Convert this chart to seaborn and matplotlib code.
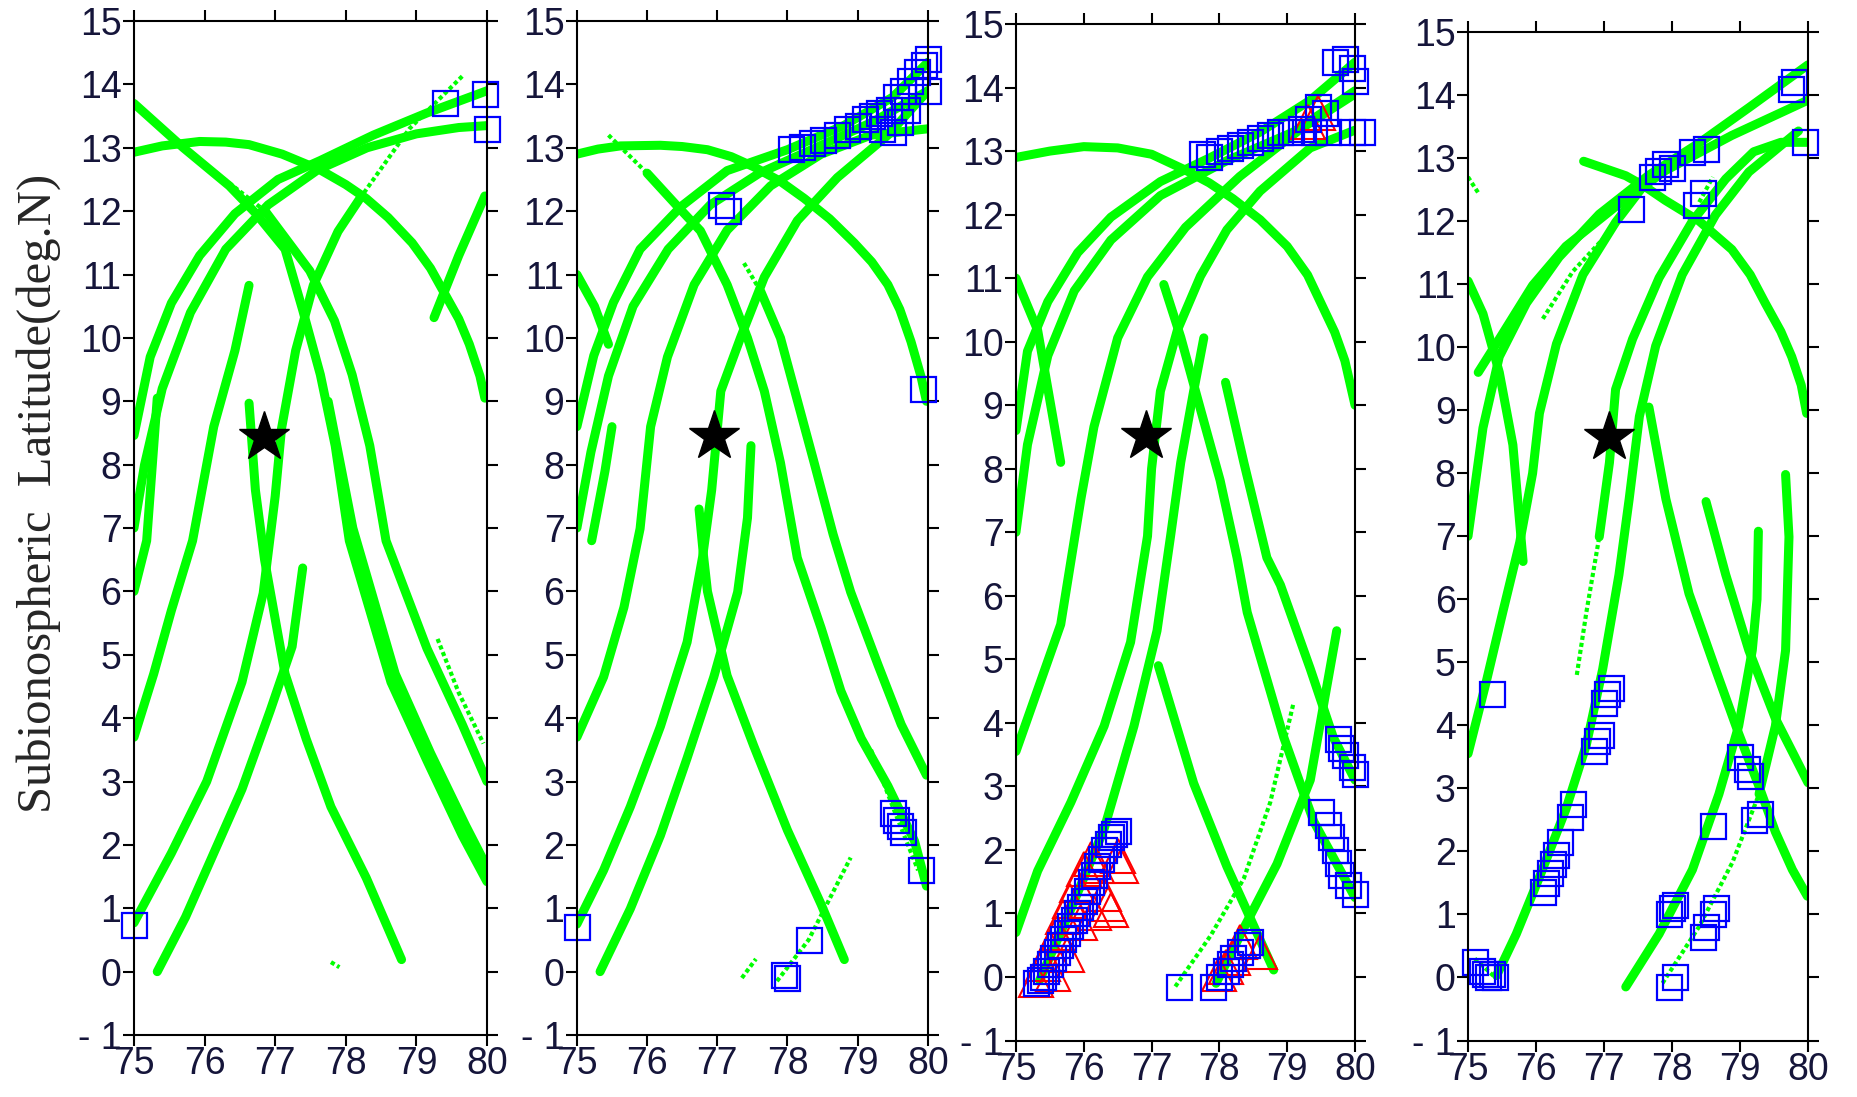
import numpy as np
import pandas as pd
import seaborn as sns
import matplotlib.pyplot as plt

# ---- data (lon deg E, lat deg N) ----
# each track is (lon list, lat list)

# panel 1
p1_thick = [
    ([75, 75.4, 75.93, 76.3, 76.63, 77.1, 77.64, 78.0, 78.29, 78.6, 78.94, 79.2, 79.4, 79.6, 79.75, 79.9, 79.97],
     [12.93, 13.03, 13.1, 13.09, 13.05, 12.9, 12.65, 12.42, 12.2, 11.9, 11.5, 11.1, 10.7, 10.3, 9.9, 9.4, 9.05]),
    ([75, 75.7, 76.35, 76.73, 77.14, 77.39, 77.64, 77.85, 78.05, 78.64, 79.15, 79.65, 80.0],
     [13.7, 13.0, 12.4, 11.96, 11.4, 10.44, 9.42, 8.3, 6.8, 4.57, 3.33, 2.15, 1.42]),
    ([77.75, 78.1, 78.7, 79.2, 79.7, 80.0], [9.0, 7.0, 4.7, 3.45, 2.3, 1.65]),
    ([76.86, 77.49, 77.84, 78.09, 78.34, 78.57, 79.15, 79.65, 80.0], [12.0, 11.06, 10.27, 9.42, 8.3, 6.8, 5.1, 3.9, 3.0]),
    ([75, 75.23, 75.53, 75.93, 76.43, 77.04, 77.64, 78.39, 79.15, 80], [8.46, 9.7, 10.55, 11.3, 11.96, 12.5, 12.8, 13.2, 13.55, 13.9]),
    ([75, 75.15, 75.4, 75.8, 76.3, 76.9, 77.6, 78.3, 79.0, 79.6, 80], [7.0, 8.0, 9.2, 10.4, 11.4, 12.1, 12.65, 13.0, 13.22, 13.32, 13.35]),
    ([75, 75.18, 75.33], [6.0, 6.8, 9.05]),
    ([75, 75.28, 75.53, 75.83, 76.13, 76.43, 76.63], [3.7, 4.7, 5.7, 6.8, 8.6, 9.8, 10.83]),
    ([75, 75.53, 76.03, 76.53, 76.83, 77.0, 77.09, 77.29, 77.54, 77.89, 78.2],
     [0.77, 1.87, 3.0, 4.57, 5.97, 7.5, 8.57, 9.8, 10.83, 11.68, 12.2]),
    ([75.33, 75.73, 76.13, 76.53, 76.93, 77.24, 77.39], [0.0, 0.86, 1.87, 2.88, 4.12, 5.13, 6.37]),
    ([76.63, 76.72, 76.85, 76.93, 77.14, 77.44, 77.79, 78.29, 78.79], [8.97, 7.6, 6.5, 6.0, 4.7, 3.67, 2.6, 1.48, 0.19]),
    ([79.25, 79.6, 79.97], [10.32, 11.3, 12.24]),
]
p1_thin = [
    ([75.87, 76.86], [12.86, 12.0]),
    ([78.2, 78.9, 79.65], [12.2, 13.3, 14.13]),
    ([79.3, 79.6, 79.95], [5.25, 4.4, 3.6]),
    ([77.79, 77.91], [0.15, 0.07]),
]
p1_sq_lon = [75.0, 79.4, 79.97, 80.0]
p1_sq_lat = [0.74, 13.7, 13.85, 13.3]
p1_tri_lon = []
p1_tri_lat = []
p1_star = (76.84, 8.44)

# panel 2
p2_thick = [
    ([75, 75.3, 75.62, 76.19, 76.5, 76.86, 77.2, 77.52, 77.9, 78.24, 78.6, 78.95, 79.2, 79.43, 79.6, 79.76, 79.9, 79.98],
     [12.9, 12.98, 13.03, 13.04, 13.02, 12.97, 12.86, 12.7, 12.47, 12.2, 11.88, 11.5, 11.2, 10.84, 10.45, 9.94, 9.4, 9.0]),
    ([76.0, 76.43, 76.76, 77.14, 77.43, 77.67, 77.9, 78.14, 78.48, 78.76, 79.05, 79.43, 79.81, 79.98],
     [12.6, 12.08, 11.69, 10.84, 10.0, 9.16, 8.03, 6.53, 5.42, 4.43, 3.68, 2.93, 2.06, 1.35]),
    ([77.62, 77.9, 78.38, 78.65, 78.9, 79.29, 79.62, 79.98], [10.73, 10.0, 8.03, 6.9, 5.99, 4.84, 3.9, 3.1]),
    ([75, 75.24, 75.52, 75.9, 76.48, 77.14, 78.0, 78.8, 79.5, 80], [8.6, 9.72, 10.56, 11.4, 12.07, 12.64, 12.97, 13.35, 13.8, 14.35]),
    ([75, 75.2, 75.45, 75.8, 76.3, 76.9, 77.6, 78.4, 79.2, 80], [7.0, 8.2, 9.4, 10.5, 11.4, 12.1, 12.6, 13.0, 13.4, 13.9]),
    ([75.21, 75.4, 75.5], [6.8, 7.9, 8.6]),
    ([75, 75.38, 75.67, 75.9, 76.05, 76.29, 76.67, 77.14, 77.76, 78.48, 79.19, 80],
     [3.7, 4.65, 5.75, 6.99, 8.6, 9.7, 10.84, 11.7, 12.4, 12.9, 13.2, 13.3]),
    ([75, 75.38, 75.76, 76.19, 76.57, 76.79, 76.92, 77.05, 77.33, 77.67, 78.14, 78.71, 79.43, 80],
     [0.75, 1.6, 2.6, 3.87, 5.2, 6.54, 7.6, 9.16, 10.0, 10.96, 11.85, 12.53, 13.2, 13.9]),
    ([75.33, 75.76, 76.19, 76.57, 76.95, 77.29, 77.43, 77.48], [0.0, 0.99, 2.15, 3.37, 4.65, 5.99, 7.16, 8.3]),
    ([76.74, 76.8, 76.86, 77.14, 77.52, 78.0, 78.48, 78.81], [7.3, 6.6, 6.0, 4.67, 3.56, 2.23, 1.06, 0.19]),
    ([75, 75.25, 75.45], [11.0, 10.5, 9.9]),
]
p2_thin = [
    ([75.45, 76.0], [13.2, 12.6]),
    ([77.38, 77.62], [11.18, 10.73]),
    ([79.19, 79.5, 79.86], [3.5, 2.6, 1.6]),
    ([77.35, 77.55], [-0.1, 0.2]),
    ([77.85, 78.3, 78.9], [-0.15, 0.5, 1.8]),
]
p2_sq_lon = [78.05, 78.2, 78.35, 78.5, 78.7, 78.85, 79.0, 79.1, 79.2, 79.3, 79.35, 79.45, 79.5, 79.6, 79.55, 79.65,
             79.7, 79.75, 79.85, 79.95, 80.0, 80.0, 77.05, 77.15, 79.93, 79.5, 79.55, 79.6, 79.65, 79.9,
             77.95, 78.0, 78.3, 75.0]
p2_sq_lat = [12.98, 13.02, 13.08, 13.12, 13.2, 13.3, 13.35, 13.45, 13.5, 13.55, 13.3, 13.6, 13.25, 13.4, 13.8, 13.9,
             13.6, 14.05, 14.2, 14.3, 14.4, 13.9, 12.1, 12.0, 9.2, 2.5, 2.4, 2.3, 2.2, 1.6,
             -0.05, -0.1, 0.5, 0.7]
p2_tri_lon = []
p2_tri_lat = []
p2_star = (76.95, 8.45)

# panel 3
p3_thick = [
    ([75, 75.5, 76, 76.5, 77, 77.5, 77.85, 78.2, 78.6, 79, 79.3, 79.5, 79.7, 79.85, 80],
     [12.9, 13.0, 13.07, 13.05, 12.95, 12.7, 12.5, 12.25, 11.92, 11.5, 11.05, 10.6, 10.15, 9.7, 9.0]),
    ([75, 75.17, 75.47, 75.91, 76.4, 77.13, 77.87, 78.6, 79.34, 80], [8.6, 9.85, 10.63, 11.4, 11.96, 12.52, 12.9, 13.3, 13.8, 14.4]),
    ([75, 75.17, 75.47, 75.86, 76.4, 77.13, 78.11, 79.09, 80], [7.0, 8.38, 9.78, 10.8, 11.6, 12.3, 12.85, 13.3, 13.95]),
    ([75, 75.32, 75.66], [11.0, 10.18, 8.1]),
    ([75, 75.32, 75.66, 75.96, 76.15, 76.5, 76.94, 77.5, 78.3, 79.2, 80], [3.55, 4.52, 5.55, 7.54, 8.66, 10.06, 11.02, 11.8, 12.6, 13.35, 13.9]),
    ([75, 75.32, 75.81, 76.3, 76.69, 76.94, 77.0, 77.13, 77.38, 77.72, 78.11, 78.6, 79.34, 80],
     [0.7, 1.67, 2.75, 3.95, 5.27, 6.94, 8.0, 9.22, 10.18, 11.03, 11.76, 12.37, 13.05, 13.33]),
    ([75.35, 75.81, 76.3, 76.74, 77.08, 77.28, 77.43, 77.62, 77.77], [-0.05, 1.07, 2.33, 3.95, 5.45, 6.94, 8.1, 9.22, 10.06]),
    ([77.18, 77.43, 77.72, 78.01, 78.26, 78.41, 78.95, 79.39, 80.0], [10.9, 10.07, 8.94, 7.82, 6.6, 5.74, 3.77, 2.45, 1.25]),
    ([78.09, 78.36, 78.7, 78.9, 79.34, 79.68, 80], [9.36, 8.1, 6.6, 6.17, 4.85, 3.77, 3.1]),
    ([77.1, 77.62, 78.11, 78.8], [4.9, 3.05, 1.74, 0.11]),
    ([77.95, 78.36, 78.85, 79.34, 79.58, 79.73], [-0.1, 0.77, 1.78, 3.1, 4.55, 5.45]),
]
p3_thin = [
    ([77.35, 77.87, 78.36, 78.75, 79.09], [-0.15, 0.65, 1.55, 2.75, 4.3]),
]
p3_sq_lon = [77.75, 77.85, 78.0, 78.15, 78.3, 78.45, 78.6, 78.75, 78.9, 79.05, 79.2, 79.3, 79.4, 79.45, 79.55, 79.6,
             79.7, 79.85, 79.95, 80.0, 79.95, 80.1,
             75.3, 75.35, 75.4, 75.45, 75.5, 75.55, 75.6, 75.65, 75.7, 75.75, 75.8, 75.85, 75.9, 75.95, 76.0, 76.05,
             76.1, 76.15, 76.2, 76.25, 76.3, 76.35, 76.4, 76.45, 76.5,
             77.4, 77.9, 78.0, 78.1, 78.15, 78.2, 78.3, 78.4, 78.45,
             79.5, 79.6, 79.65, 79.7, 79.75, 79.8, 79.9, 80.0, 79.75, 79.8, 79.85, 79.95, 80.0]
p3_sq_lat = [12.95, 12.9, 13.0, 13.05, 13.1, 13.15, 13.2, 13.25, 13.3, 13.3, 13.35, 13.5, 13.3, 13.7, 13.6, 13.3,
             14.4, 14.45, 14.3, 14.1, 13.3, 13.3,
             -0.1, -0.05, 0.0, 0.1, 0.2, 0.3, 0.4, 0.5, 0.6, 0.7, 0.8, 0.9, 1.0, 1.1, 1.2, 1.35,
             1.5, 1.6, 1.75, 1.85, 2.0, 2.1, 2.2, 2.25, 2.3,
             -0.15, -0.15, 0.0, 0.1, 0.2, 0.3, 0.4, 0.5, 0.55,
             2.6, 2.4, 2.2, 2.0, 1.8, 1.6, 1.45, 1.3, 3.75, 3.6, 3.5, 3.3, 3.2]
p3_tri_lon = [75.3, 75.4, 75.5, 75.6, 75.7, 75.8, 75.9, 76.0, 76.1, 76.2, 76.3, 76.4, 76.5, 75.55, 75.75, 75.95,
              76.15, 76.35, 76.55, 78.0, 78.1, 78.2, 78.3, 78.6, 79.3, 79.45]
p3_tri_lat = [-0.05, 0.2, 0.45, 0.7, 0.95, 1.2, 1.45, 1.7, 1.85, 1.75, 1.3, 1.05, 1.9, 0.05, 0.35, 0.85,
              1.0, 1.15, 1.75, 0.05, 0.15, 0.3, 0.55, 0.4, 13.45, 13.6]
p3_star = (76.92, 8.52)

# panel 4
p4_thick = [
    ([76.7, 77.32, 77.6, 77.9, 78.4, 78.88, 79.15, 79.37, 79.6, 79.76, 79.9, 79.98],
     [12.95, 12.72, 12.55, 12.33, 12.0, 11.55, 11.15, 10.7, 10.25, 9.85, 9.4, 8.95]),
    ([75, 75.22, 75.46, 75.66, 75.81], [11.05, 10.53, 9.6, 8.45, 6.6]),
    ([75, 75.27, 75.51, 75.76, 75.95, 76.05, 76.3, 76.69, 77.17, 77.61, 77.9],
     [3.55, 4.7, 5.79, 6.9, 8.0, 8.95, 10.05, 11.15, 11.98, 12.6, 12.85]),
    ([75, 75.22, 75.46, 75.86, 76.34, 76.93, 77.66, 78.4, 79.13, 80], [7.0, 8.72, 9.85, 10.7, 11.43, 12.11, 12.73, 13.24, 13.8, 14.48]),
    ([75.15, 75.46, 75.95, 76.44, 77.17, 77.9, 78.88, 80], [9.6, 10.13, 10.98, 11.6, 12.23, 12.8, 13.36, 13.92]),
    ([76.93, 77.08, 77.17, 77.42, 77.81, 78.3, 78.79, 79.2, 79.6, 80], [6.99, 8.17, 9.33, 10.13, 11.1, 12.0, 12.67, 13.1, 13.25, 13.25]),
    ([75.42, 75.71, 76.05, 76.44, 76.74, 76.98, 77.22, 77.37, 77.52, 77.76, 78.15, 78.64, 79.13, 79.86],
     [0.03, 0.69, 1.59, 2.67, 3.69, 4.89, 6.39, 7.59, 8.9, 10.02, 11.15, 12.1, 12.78, 13.43]),
    ([77.66, 77.91, 78.25, 78.64, 78.98, 79.28, 79.52, 79.77, 79.99], [9.05, 7.59, 6.09, 4.89, 3.87, 3.03, 2.31, 1.71, 1.29]),
    ([78.5, 78.79, 79.13, 79.52, 80], [7.55, 6.39, 5.19, 4.11, 3.09]),
    ([77.32, 77.81, 78.3, 78.69, 78.98, 79.18, 79.25, 79.27], [-0.15, 0.69, 1.71, 2.91, 3.99, 5.19, 6.0, 7.08]),
    ([79.28, 79.52, 79.67, 79.72, 79.67], [2.91, 3.99, 5.19, 6.99, 7.98]),
]
p4_thin = [
    ([76.6, 76.74, 76.93], [4.8, 5.79, 6.99]),
    ([76.1, 76.54, 77.03, 77.42], [10.45, 11.2, 11.77, 12.33]),
    ([75, 75.15], [12.7, 12.45]),
    ([77.86, 78.4, 78.89, 79.28], [-0.09, 0.81, 1.83, 2.91]),
    ([75.1, 75.4], [0.3, 0.0]),
    ([78.4, 78.6], [12.3, 12.7]),
]
p4_sq_lon = [75.1, 75.2, 75.25, 75.3, 75.35, 75.4, 75.35, 76.1, 76.15, 76.2, 76.25, 76.3, 76.35, 76.5, 76.55,
             76.85, 76.9, 76.95, 77.0, 77.05, 77.1, 77.95, 78.0, 78.05, 77.95, 78.05, 78.45, 78.5, 78.6, 78.65,
             78.6, 79.0, 79.1, 79.15, 79.2, 79.3, 77.4, 78.35, 78.45, 77.7, 77.8, 77.9, 78.0, 78.3, 78.5,
             79.75, 79.8, 79.95]
p4_sq_lat = [0.25, 0.1, 0.05, 0.0, 0.05, 0.0, 4.5, 1.35, 1.5, 1.65, 1.8, 1.95, 2.15, 2.55, 2.75,
             3.6, 3.75, 3.85, 4.35, 4.5, 4.6, 1.0, 1.1, 1.15, -0.15, 0.0, 0.65, 0.8, 1.0, 1.1,
             2.4, 3.5, 3.3, 3.2, 2.5, 2.6, 12.2, 12.25, 12.45, 12.7, 12.8, 12.9, 12.85, 13.1, 13.15,
             14.1, 14.2, 13.25]
p4_tri_lon = []
p4_tri_lat = []
p4_star = (77.08, 8.58)

panels = [
    (p1_thick, p1_thin, p1_sq_lon, p1_sq_lat, p1_tri_lon, p1_tri_lat, p1_star),
    (p2_thick, p2_thin, p2_sq_lon, p2_sq_lat, p2_tri_lon, p2_tri_lat, p2_star),
    (p3_thick, p3_thin, p3_sq_lon, p3_sq_lat, p3_tri_lon, p3_tri_lat, p3_star),
    (p4_thick, p4_thin, p4_sq_lon, p4_sq_lat, p4_tri_lon, p4_tri_lat, p4_star),
]

# axes boxes in figure fraction
BOXES = [
    [0.0721, 0.0565, 0.1900, 0.9243],
    [0.3105, 0.0565, 0.1889, 0.9243],
    [0.5468, 0.0515, 0.1825, 0.9266],
    [0.7901, 0.0515, 0.1830, 0.9193],
]

GREEN = '#00ff00'


def tracks_frame(tracks):
    rows = []
    for i, (lo, la) in enumerate(tracks):
        for a, b in zip(lo, la):
            rows.append((i, a, b))
    return pd.DataFrame(rows, columns=['track', 'lon', 'lat'])


sns.set_style('ticks')
plt.rcParams['font.family'] = ['Liberation Sans', 'DejaVu Sans']

fig = plt.figure(figsize=(18.58, 10.97), dpi=100)

for box, (thick, thin, sq_lo, sq_la, tr_lo, tr_la, star) in zip(BOXES, panels):
    ax = fig.add_axes(box)
    sns.lineplot(data=tracks_frame(thick), x='lon', y='lat', units='track', estimator=None, sort=False,
                 color=GREEN, lw=6.5, ax=ax, legend=False, solid_capstyle='round', solid_joinstyle='round')
    sns.lineplot(data=tracks_frame(thin), x='lon', y='lat', units='track', estimator=None, sort=False,
                 color=GREEN, lw=3, ls=(0, (1, 0.7)), ax=ax, legend=False)
    if tr_lo:
        ax.plot(tr_lo, tr_la, ls='none', marker='^', ms=24, mfc='none', mec='red', mew=1.5, clip_on=False)
    ax.plot(sq_lo, sq_la, ls='none', marker='s', ms=18, mfc='none', mec='#0000ff', mew=1.6, clip_on=False)
    ax.plot([star[0]], [star[1]], ls='none', marker='*', ms=38, color='black', clip_on=False, zorder=5)

    ax.set_xlim(75, 80)
    ax.set_ylim(-1, 15)
    ax.set_xticks(range(75, 81))
    ax.set_yticks(range(-1, 16))
    ax.set_yticklabels(['- 1' if v == -1 else str(v) for v in range(-1, 16)])
    ax.tick_params(axis='both', direction='out', length=8, width=1.5, colors='black')
    ax.tick_params(axis='x', labelsize=27, pad=0, top=True, labeltop=False)
    ax.tick_params(axis='y', labelsize=27, pad=1, right=True, labelright=False)
    for lab in ax.get_xticklabels() + ax.get_yticklabels():
        lab.set_color('#15153a')
    for sp in ax.spines.values():
        sp.set_visible(True)
        sp.set_linewidth(1.5)
        sp.set_color('black')
    ax.set_xlabel('')
    ax.set_ylabel('')

fig.text(0.021, 0.55, 'Subionospheric  Latitude(deg.N)', rotation=90, ha='center', va='center',
         fontsize=35, family=['Liberation Serif', 'DejaVu Serif'])

fig.savefig('out.png', dpi=100, facecolor='white')
